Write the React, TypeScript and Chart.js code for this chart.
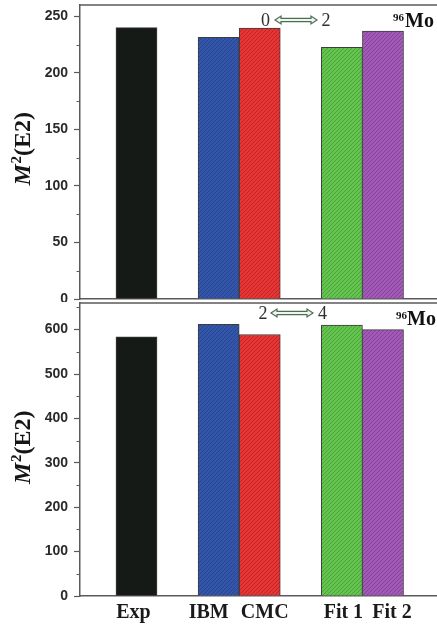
import React, { useEffect, useRef } from 'react';
import { Chart, registerables } from 'chart.js';
Chart.register(...registerables);

// ---- data ----
const categories = ['Exp', '', 'IBM', 'CMC', '', 'Fit 1', 'Fit 2'];
const valuesE2_0to2 = [240, null, 231.5, 239.5, null, 222.5, 237];
const valuesE2_2to4 = [584, null, 612, 589, null, 610, 600];
const transitionTop = ['0', '2'];
const transitionBottom = ['2', '4'];
const nucleusMass = '96';
const nucleusSymbol = 'Mo';
const yTitleParts = ['M', '2', '(E2)'];

// ---- styles ----
const barBase = ['#161a16', null, '#3456aa', '#e53535', null, '#64c44f', '#a259b8'];
const barLine = ['#161a16', null, '#25438f', '#bd2323', null, '#46a03a', '#7f4194'];
const labelNudge = [-3, 0, -10, 5, 0, 1.5, 9];
const AXIS = '#5a5a5a';

function hatch(base: string, line: string) {
  const c = document.createElement('canvas');
  c.width = 4; c.height = 4;
  const g = c.getContext('2d')!;
  g.fillStyle = base; g.fillRect(0, 0, 4, 4);
  if (line !== base) {
    g.strokeStyle = line; g.lineWidth = 0.9;
    g.beginPath();
    g.moveTo(0, 4); g.lineTo(4, 0);
    g.moveTo(-1, 1); g.lineTo(1, -1);
    g.moveTo(3, 5); g.lineTo(5, 3);
    g.stroke();
  }
  return g.createPattern(c, 'repeat')!;
}

type PanelOpts = {
  values: (number | null)[];
  yMax: number;
  yStep: number;
  showX: boolean;
  xHeight: number;
  padTop: number;
  trans: string[];
  transY: number;
  arrowY: number;
  arrowX: [number, number];
  numX: [number, number];
  isoX: [number, number];
  isoY: number;
  titleShift: number;
};

function drawArrow(ctx: CanvasRenderingContext2D, x1: number, x2: number, cy: number) {
  const st = 1.6, hh = 4, hl = 6;
  ctx.beginPath();
  ctx.moveTo(x1, cy);
  ctx.lineTo(x1 + hl, cy - hh);
  ctx.lineTo(x1 + hl, cy - st);
  ctx.lineTo(x2 - hl, cy - st);
  ctx.lineTo(x2 - hl, cy - hh);
  ctx.lineTo(x2, cy);
  ctx.lineTo(x2 - hl, cy + hh);
  ctx.lineTo(x2 - hl, cy + st);
  ctx.lineTo(x1 + hl, cy + st);
  ctx.lineTo(x1 + hl, cy + hh);
  ctx.closePath();
  ctx.fillStyle = '#eef6ee';
  ctx.fill();
  ctx.strokeStyle = '#4d6b55';
  ctx.lineWidth = 1.2;
  ctx.stroke();
}

function makeChart(canvas: HTMLCanvasElement, p: PanelOpts) {
  const pts: { x: number; y: number }[] = [];
  const bg: CanvasPattern[] = [];
  p.values.forEach((v, i) => {
    if (v !== null) {
      pts.push({ x: i, y: v });
      bg.push(hatch(barBase[i] as string, barLine[i] as string));
    }
  });

  const decor = {
    id: 'decor',
    afterDraw(chart: any) {
      const ctx: CanvasRenderingContext2D = chart.ctx;
      const a = chart.chartArea;
      const ys = chart.scales.y;
      const xs = chart.scales.x;
      ctx.save();
      // top frame line
      ctx.strokeStyle = AXIS;
      ctx.lineWidth = 1.5;
      ctx.beginPath();
      ctx.moveTo(a.left, a.top);
      ctx.lineTo(a.right, a.top);
      ctx.stroke();
      // minor ticks
      ctx.lineWidth = 1;
      for (let v = p.yStep / 2; v < p.yMax; v += p.yStep) {
        const y = Math.round(ys.getPixelForValue(v)) + 0.5;
        ctx.beginPath();
        ctx.moveTo(a.left - 3.5, y);
        ctx.lineTo(a.left, y);
        ctx.stroke();
      }
      // category labels
      if (p.showX) {
        ctx.fillStyle = '#1a1a1a';
        ctx.font = 'bold 20px "Liberation Serif"';
        ctx.textAlign = 'center';
        ctx.textBaseline = 'middle';
        categories.forEach((c, i) => {
          if (!c) return;
          ctx.fillText(c, xs.getPixelForValue(i) + labelNudge[i], a.bottom + 17);
        });
      }
      // transition annotation
      ctx.fillStyle = '#2e2e2e';
      ctx.font = '18px "Liberation Serif"';
      ctx.textAlign = 'center';
      ctx.textBaseline = 'alphabetic';
      ctx.fillText(p.trans[0], p.numX[0], a.top + p.transY);
      ctx.fillText(p.trans[1], p.numX[1], a.top + p.transY);
      drawArrow(ctx, p.arrowX[0], p.arrowX[1], a.top + p.arrowY);
      // nucleus label
      ctx.fillStyle = '#111';
      ctx.textAlign = 'left';
      ctx.font = 'bold 11px "Liberation Serif"';
      ctx.fillText(nucleusMass, p.isoX[0], a.top + p.isoY - 6);
      ctx.font = 'bold 20px "Liberation Serif"';
      ctx.fillText(nucleusSymbol, p.isoX[1], a.top + p.isoY);
      // y-axis title
      const cy = (a.top + a.bottom) / 2 + p.titleShift;
      ctx.translate(30, cy);
      ctx.rotate(-Math.PI / 2);
      ctx.font = 'italic bold 24px "Liberation Serif"';
      const wM = ctx.measureText(yTitleParts[0]).width;
      ctx.font = 'bold 15px "Liberation Serif"';
      const w2 = ctx.measureText(yTitleParts[1]).width;
      ctx.font = 'bold 24px "Liberation Serif"';
      const wR = ctx.measureText(yTitleParts[2]).width;
      let x = -(wM + w2 + wR) / 2;
      ctx.fillStyle = '#151515';
      ctx.font = 'italic bold 24px "Liberation Serif"';
      ctx.fillText(yTitleParts[0], x, 0);
      x += wM + 0.5;
      ctx.font = 'bold 15px "Liberation Serif"';
      ctx.fillText(yTitleParts[1], x, -9);
      x += w2;
      ctx.font = 'bold 24px "Liberation Serif"';
      ctx.fillText(yTitleParts[2], x, 0);
      ctx.restore();
    },
  };

  return new Chart(canvas, {
    type: 'bar',
    data: {
      datasets: [
        {
          data: pts as any,
          backgroundColor: bg as any,
          borderColor: '#3c3c3c',
          borderWidth: 1,
          barPercentage: 1,
          categoryPercentage: 1,
        },
      ],
    },
    options: {
      responsive: false,
      animation: false,
      devicePixelRatio: 1,
      layout: { padding: { top: p.padTop, left: 0, right: 0, bottom: 0 } },
      plugins: { legend: { display: false }, tooltip: { enabled: false } },
      scales: {
        x: {
          type: 'linear',
          min: -1.375,
          max: 7.315,
          offset: false,
          grid: { display: false, drawTicks: false },
          border: { display: true, color: AXIS, width: 1.5 },
          ticks: { display: false, stepSize: 1 },
          afterFit: (s: any) => {
            s.height = p.xHeight;
            s.paddingLeft = 0; s.paddingRight = 0; s.paddingTop = 0; s.paddingBottom = 0;
          },
        },
        y: {
          min: 0,
          max: p.yMax,
          grid: { display: true, drawOnChartArea: false, drawTicks: true, tickLength: 6, tickColor: AXIS, tickWidth: 1.2 },
          border: { display: true, color: AXIS, width: 1.5 },
          ticks: {
            stepSize: p.yStep,
            autoSkip: false,
            includeBounds: false,
            padding: 6,
            color: '#2a2a2a',
            font: { family: '"Liberation Sans"', weight: 'bold', size: 14 },
            callback: (v: any) => (v % p.yStep === 0 ? String(v) : ''),
          },
          afterFit: (s: any) => {
            s.width = 80;
            s.paddingTop = 0; s.paddingBottom = 0; s.paddingLeft = 0; s.paddingRight = 0;
          },
        },
      },
    },
    plugins: [decor],
  } as any);
}

export default function App() {
  const topRef = useRef<HTMLCanvasElement>(null);
  const botRef = useRef<HTMLCanvasElement>(null);

  useEffect(() => {
    const c1 = makeChart(topRef.current!, {
      values: valuesE2_0to2,
      yMax: 260,
      yStep: 50,
      showX: false,
      xHeight: 3,
      padTop: 5,
      trans: transitionTop,
      transY: 21,
      arrowY: 15,
      arrowX: [275, 317],
      numX: [265.5, 326],
      isoX: [393, 405],
      isoY: 22,
      titleShift: -3,
    });
    const c2 = makeChart(botRef.current!, {
      values: valuesE2_2to4,
      yMax: 660,
      yStep: 100,
      showX: true,
      xHeight: 34,
      padTop: 1,
      trans: transitionBottom,
      transY: 16,
      arrowY: 10,
      arrowX: [271, 313],
      numX: [263, 322.5],
      isoX: [396, 407],
      isoY: 22,
      titleShift: -2,
    });
    return () => { c1.destroy(); c2.destroy(); };
  }, []);

  return (
    <div style={{ position: 'absolute', left: 0, top: 0, width: 437, height: 630, background: '#fff' }}>
      <canvas ref={topRef} width={437} height={302} style={{ position: 'absolute', left: 0, top: 0 }} />
      <canvas ref={botRef} width={437} height={328} style={{ position: 'absolute', left: 0, top: 302 }} />
    </div>
  );
}
